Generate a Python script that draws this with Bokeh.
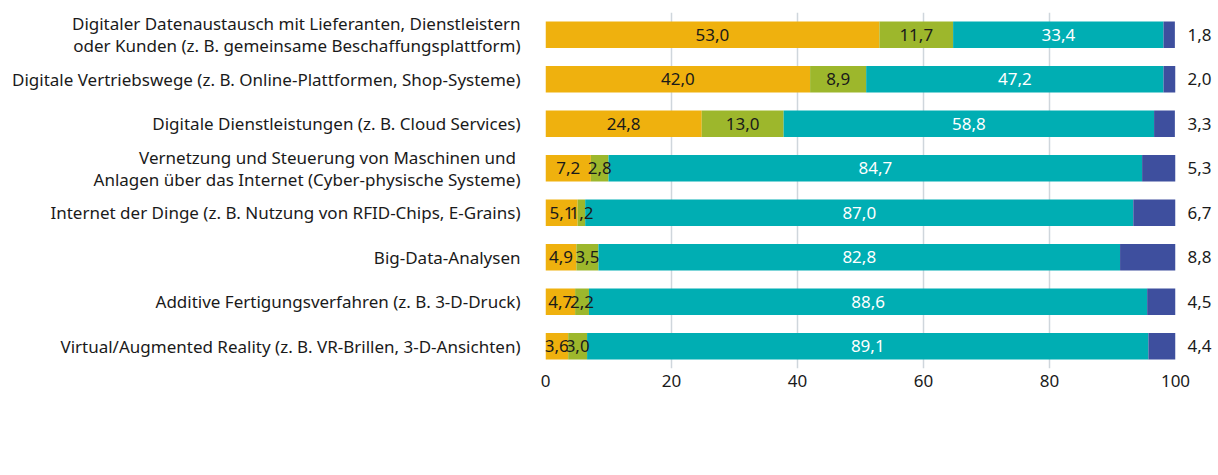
from bokeh.plotting import figure
from bokeh.layouts import column
from bokeh.models import (ColumnDataSource, FactorRange, Legend, LegendItem, CategoricalAxis,
                          Range1d, CustomJSTickFormatter)
from bokeh.core.properties import value
from bokeh.embed import file_html
from bokeh.resources import INLINE

categories = [
    "Digitaler Datenaustausch mit Lieferanten, Dienstleistern\noder Kunden (z. B. gemeinsame Beschaffungsplattform)",
    "Digitale Vertriebswege (z. B. Online-Plattformen, Shop-Systeme)",
    "Digitale Dienstleistungen (z. B. Cloud Services)",
    "Vernetzung und Steuerung von Maschinen und \nAnlagen über das Internet (Cyber-physische Systeme)",
    "Internet der Dinge (z. B. Nutzung von RFID-Chips, E-Grains)",
    "Big-Data-Analysen",
    "Additive Fertigungsverfahren (z. B. 3-D-Druck)",
    "Virtual/Augmented Reality (z. B. VR-Brillen, 3-D-Ansichten)",
]
ja_mehr = [53.0, 42.0, 24.8, 7.2, 5.1, 4.9, 4.7, 3.6]
ja_weniger = [11.7, 8.9, 13.0, 2.8, 1.2, 3.5, 2.2, 3.0]
nein = [33.4, 47.2, 58.8, 84.7, 87.0, 82.8, 88.6, 89.1]
kann_nicht = [1.8, 2.0, 3.3, 5.3, 6.7, 8.8, 4.5, 4.4]
series_names = ["Ja, seit zwei Jahren oder mehr", "Ja, seit weniger als zwei Jahren", "Nein", "Kann ich nicht beurteilen"]
x_ticks = [0, 20, 40, 60, 80, 100]

colors = ["#EFB10E", "#9DB72C", "#00AEB3", "#3E4F9E"]
FONT = "Noto Sans"
FS = "17px"
TXT = "#1a1a1a"

def fmt(v):
    return f"{v:.1f}".replace(".", ",")

keys = ["a", "b", "c", "d"]
source = ColumnDataSource(dict(cat=categories, a=ja_mehr, b=ja_weniger, c=nein, d=kann_nicht))

p = figure(width=1218, height=408, y_range=FactorRange(*reversed(categories)),
           x_range=Range1d(0, 100), output_backend="svg", toolbar_location=None,
           min_border_left=545, min_border_right=43, min_border_top=12, min_border_bottom=40)
p.outline_line_color = None

p.hbar_stack(keys, y="cat", height=0.6, color=colors, source=source, line_color=None)

# in-bar labels
text_colors = [TXT, TXT, "#ffffff"]
series_vals = [ja_mehr, ja_weniger, nein]
cum = [0.0] * len(categories)
for vals, tc in zip(series_vals, text_colors):
    xs = [c + v / 2 for c, v in zip(cum, vals)]
    cum = [c + v for c, v in zip(cum, vals)]
    src = ColumnDataSource(dict(x=xs, y=categories, t=[fmt(v) for v in vals]))
    p.text(x="x", y="y", text="t", source=src, text_align="center", text_baseline="middle",
           text_font=value(FONT), text_font_size=FS, text_color=tc)

# axes
p.xaxis.ticker = x_ticks
p.xaxis.axis_line_color = None
p.xaxis.major_tick_line_color = None
p.xaxis.major_tick_out = 0
p.xaxis.major_tick_in = 0
p.xaxis.minor_tick_line_color = None
p.xaxis.major_label_text_font = FONT
p.xaxis.major_label_text_font_size = FS
p.xaxis.major_label_text_color = TXT
p.xaxis.major_label_standoff = 6

p.yaxis.axis_line_color = None
p.yaxis.major_tick_line_color = None
p.yaxis.major_tick_out = 0
p.yaxis.minor_tick_line_color = None
p.yaxis.major_label_text_font = FONT
p.yaxis.major_label_text_font_size = FS
p.yaxis.major_label_text_color = TXT
p.yaxis.major_label_text_line_height = 0.95
p.yaxis.major_label_standoff = 25

right_labels = {c: fmt(v) for c, v in zip(categories, kann_nicht)}
right_axis = CategoricalAxis(formatter=CustomJSTickFormatter(args=dict(labels=right_labels),
                                                             code="return labels[tick];"))
right_axis.axis_line_color = None
right_axis.major_tick_line_color = None
right_axis.major_tick_out = 0
right_axis.major_label_text_font = FONT
right_axis.major_label_text_font_size = FS
right_axis.major_label_text_color = TXT
right_axis.major_label_standoff = 12
p.add_layout(right_axis, "right")

p.xgrid.grid_line_color = "#cfd6dc"
p.xgrid.grid_line_width = 1.5
p.ygrid.grid_line_color = None

# legend strip below the chart: zero-height bars only supply the legend swatches
lg = figure(width=1218, height=47, output_backend="svg", toolbar_location=None,
            min_border=0, x_axis_location=None, y_axis_location=None,
            x_range=Range1d(0, 100), y_range=FactorRange(*reversed(categories)))
lg.grid.visible = False
lg.outline_line_color = None
lg_renderers = lg.hbar_stack(keys, y="cat", height=0, color=colors, source=source, line_color=None)

legend = Legend(items=[LegendItem(label=n, renderers=[r]) for n, r in zip(series_names, lg_renderers)],
                orientation="horizontal", location="right")
legend.label_text_font = FONT
legend.label_text_font_size = FS
legend.label_text_color = TXT
legend.glyph_width = 13
legend.glyph_height = 14
legend.label_standoff = 9
legend.spacing = 40
legend.padding = 0
legend.margin = 0
legend.border_line_color = None
legend.background_fill_alpha = 0
lg.add_layout(legend, "below")

layout = column(p, lg, spacing=0)
open("out.html", "w").write(file_html(layout, INLINE))
